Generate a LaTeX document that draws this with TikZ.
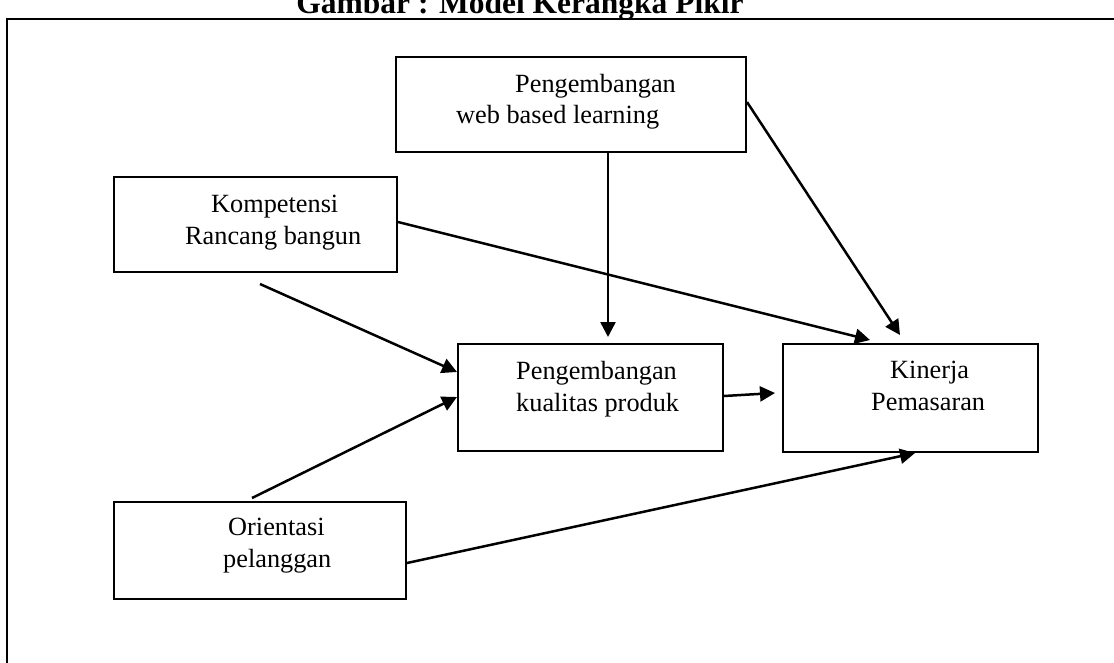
\documentclass[tikz,border=0pt]{standalone}
\usepackage{fontspec}
\setmainfont{Liberation Serif}
\usetikzlibrary{arrows.meta}
\begin{document}
\begin{tikzpicture}[x=1pt,y=-1pt,
  box/.style={draw,line width=2pt,rectangle,inner sep=0pt,anchor=north west},
  lbl/.style={anchor=base west,inner sep=0pt,font=\fontsize{26.3}{31.5}\selectfont},
  arr/.style={line width=2.5pt,-{Triangle[length=15pt,width=15pt]}}]
\clip (0,0) rectangle (1114,662);
\fill[white] (0,0) rectangle (1114,662);
% title and frame
\node[anchor=base,inner sep=0pt,font=\fontsize{31.5}{36}\selectfont\bfseries] (title) at (520,13) {Gambar : Model Kerangka Pikir};
\draw[line width=2.5pt] (7,19) rectangle (1140,700);
% boxes
\node[box,minimum width=350pt,minimum height=95pt] (web) at (395,56) {};
\node[box,minimum width=283pt,minimum height=95pt] (komp) at (113,176) {};
\node[box,minimum width=265pt,minimum height=107pt] (kual) at (457,343) {};
\node[box,minimum width=255pt,minimum height=108pt] (kin) at (782,343) {};
\node[box,minimum width=292pt,minimum height=97pt] (ori) at (113,501) {};
% labels
\node[lbl] (web1) at (515,92) {Pengembangan};
\node[lbl] (web2) at (456,123) {web based learning};
\node[lbl] (komp1) at (211,212) {Kompetensi};
\node[lbl] (komp2) at (185,244) {Rancang bangun};
\node[lbl] (kual1) at (516,379) {Pengembangan};
\node[lbl] (kual2) at (516,411) {kualitas produk};
\node[lbl] (kin1) at (890,378) {Kinerja};
\node[lbl] (kin2) at (871,410) {Pemasaran};
\node[lbl] (ori1) at (228,535) {Orientasi};
\node[lbl] (ori2) at (223,567) {pelanggan};
% connector end points
\coordinate (t1) at (608,337);
\coordinate (s2) at (745,102);
\coordinate (t2) at (900,335);
\coordinate (s3) at (396,222);
\coordinate (t3) at (870,340);
\coordinate (s4) at (260,284);
\coordinate (s5) at (252,498);
\coordinate (s6) at (722,396);
\coordinate (t6) at (775,393);
\coordinate (s7) at (405,563);
\coordinate (t7) at (915,453);
% connectors
\draw[arr] (web.south -| t1) -- (t1);
\draw[arr] (web.east |- s2) -- (t2);
\draw[arr] (komp.east |- s3) -- (t3);
\draw[arr] (s4) -- (kual.west |- 0,372);
\draw[arr] (s5) -- (kual.west |- 0,397);
\draw[arr] (kual.east |- s6) -- (t6);
\draw[arr] (ori.east |- s7) -- (t7);
\end{tikzpicture}
\end{document}
